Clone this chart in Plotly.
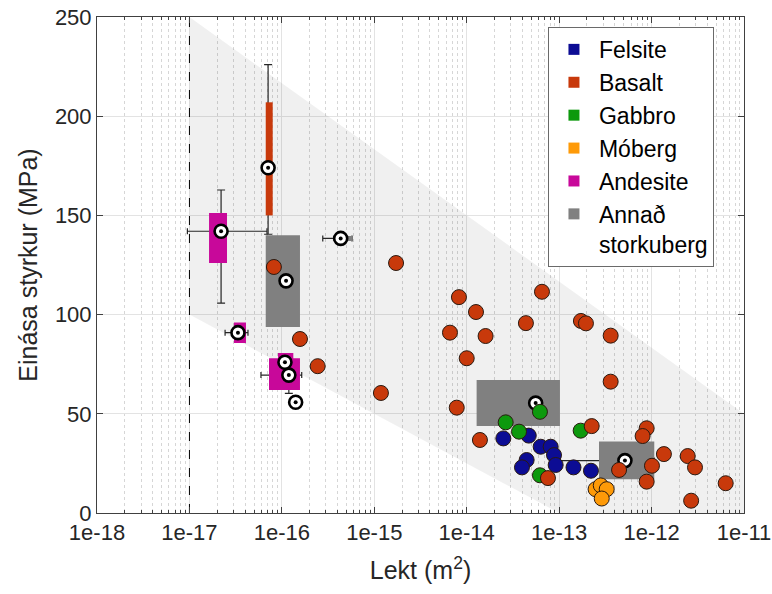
import plotly.graph_objects as go

# ---------------- data ----------------
band_x = [1e-17, 1e-11, 1e-11, 1e-13, 1e-17, 1e-17]
band_y = [250, 50, 0, 0, 100, 250]

limit_x = [1e-17, 1e-17]
limit_y = [0, 250]

felsite_x = [2.49e-14, 4.69e-14, 6.31e-14, 8.1e-14, 8.8e-14, 4.45e-14, 3.96e-14, 9.17e-14, 1.43e-13, 2.21e-13]
felsite_y = [37.6, 39.0, 33.4, 33.4, 29.2, 26.7, 23.0, 24.2, 23.0, 21.3]

gabbro_x = [2.64e-14, 3.68e-14, 6.2e-14, 1.71e-13, 6.2e-14]
gabbro_y = [45.7, 41.0, 51.0, 41.5, 19.0]

moberg_x = [2.48e-13, 2.82e-13, 3.27e-13, 2.89e-13]
moberg_y = [12.0, 13.9, 12.0, 7.3]

basalt_x = [8.2e-17, 1.57e-16, 2.44e-16, 1.72e-15, 1.18e-15, 8.24e-15, 1.26e-14, 6.59e-15,
            1.6e-14, 1.0e-14, 6.52e-14, 4.37e-14, 1.72e-13, 1.95e-13, 7.8e-15, 1.39e-14,
            2.25e-13, 7.57e-14, 3.61e-13, 3.61e-13, 8.85e-13, 8.0e-13, 1.36e-12, 4.45e-13,
            1.01e-12, 8.85e-13, 2.46e-12, 2.95e-12, 2.68e-12, 6.34e-12]
basalt_y = [124, 87.7, 74, 126, 60.5, 108.8, 101.3, 90.9,
            89.2, 78, 111.5, 95.7, 96.8, 95.6, 53.1, 36.8,
            43.8, 17.6, 89.4, 66.2, 42.7, 38.8, 29.7, 21.7,
            23.8, 15.8, 28.7, 23.0, 6.2, 15.0]

# boxes: group, x0, x1, y0, y1
box_group = ["Andesite", "Basalt", "Annað", "Andesite", "Andesite", "Andesite", "Annað", "Annað", "Annað"]
box_x0 = [1.63e-17, 6.69e-17, 6.69e-17, 3.03e-17, 7.26e-17, 9.08e-17, 3.57e-16, 1.28e-14, 2.7e-13]
box_x1 = [2.55e-17, 7.96e-17, 1.57e-16, 4.09e-17, 1.57e-16, 1.33e-16, 5.74e-16, 1.02e-13, 1.07e-12]
box_y0 = [126, 150, 93.7, 85.7, 62, 76, 137.1, 43.8, 17]
box_y1 = [151.2, 207, 140, 96, 78, 80.6, 139.6, 67, 36]

# medians
med_x = [2.2e-17, 7.1e-17, 1.11e-16, 3.35e-17, 1.08e-16, 1.19e-16, 1.41e-16, 4.33e-16, 5.57e-14, 5.15e-13]
med_y = [142, 174, 117, 90.9, 76, 69.5, 55.8, 138.4, 55.4, 26.4]

# vertical whiskers: x, y(center), low, high
vw_x = [2.2e-17, 7.1e-17, 1.19e-16]
vw_y = [142, 174, 69.5]
vw_lo = [105.8, 140.5, 60.3]
vw_hi = [162.8, 226, 69.5]

# horizontal whiskers: x(center), y, low, high
hw_x = [2.2e-17, 3.35e-17, 1.19e-16, 4.33e-16, 5.15e-13]
hw_y = [142, 90.9, 69.5, 138.4, 26.4]
hw_lo = [0.95e-17, 2.43e-17, 5.94e-17, 2.77e-16, 1.02e-13]
hw_hi = [6.9e-17, 4.3e-17, 1.64e-16, 5.74e-16, 1.07e-12]

x_tickvals = [1e-18, 1e-17, 1e-16, 1e-15, 1e-14, 1e-13, 1e-12, 1e-11]
x_ticktext = ["1e-18", "1e-17", "1e-16", "1e-15", "1e-14", "1e-13", "1e-12", "1e-11"]
y_tickvals = [0, 50, 100, 150, 200, 250]

legend_names = ["Felsite", "Basalt", "Gabbro", "Móberg", "Andesite", "Annað<br>storkuberg"]
colors = {
    "Felsite": "#0c0c94",
    "Basalt": "#c8390b",
    "Gabbro": "#0d990d",
    "Móberg": "#fe9a08",
    "Andesite": "#c8089a",
    "Annað": "#808080",
}
legend_colors = [colors["Felsite"], colors["Basalt"], colors["Gabbro"], colors["Móberg"],
                 colors["Andesite"], colors["Annað"]]

FONT = "Liberation Sans, Arial, sans-serif"
TXT = "#262626"

fig = go.Figure()

# band
fig.add_trace(go.Scatter(x=band_x, y=band_y, mode="lines", fill="toself",
                         fillcolor="rgba(0,0,0,0.06)", line=dict(width=0),
                         hoverinfo="skip", showlegend=False))
# limit line
fig.add_trace(go.Scatter(x=limit_x, y=limit_y, mode="lines",
                         line=dict(color="black", width=1, dash="dash"),
                         showlegend=False, hoverinfo="skip"))

# whiskers
fig.add_trace(go.Scatter(
    x=vw_x, y=vw_y, mode="markers", marker=dict(size=1, color="rgba(0,0,0,0)"),
    error_y=dict(type="data", symmetric=False,
                 array=[h - c for h, c in zip(vw_hi, vw_y)],
                 arrayminus=[c - l for l, c in zip(vw_lo, vw_y)],
                 color="#262626", thickness=1.2, width=4),
    showlegend=False, hoverinfo="skip"))
fig.add_trace(go.Scatter(
    x=hw_x, y=hw_y, mode="markers", marker=dict(size=1, color="rgba(0,0,0,0)"),
    error_x=dict(type="data", symmetric=False,
                 array=[h - c for h, c in zip(hw_hi, hw_x)],
                 arrayminus=[c - l for l, c in zip(hw_lo, hw_x)],
                 color="#262626", thickness=1.2, width=3),
    showlegend=False, hoverinfo="skip"))

# boxes
for g in ["Annað", "Basalt", "Andesite"]:
    xs, ys = [], []
    for grp, x0, x1, y0, y1 in zip(box_group, box_x0, box_x1, box_y0, box_y1):
        if grp != g:
            continue
        xs += [x0, x1, x1, x0, x0, None]
        ys += [y0, y0, y1, y1, y0, None]
    fig.add_trace(go.Scatter(x=xs, y=ys, mode="lines", fill="toself",
                             fillcolor=colors[g], line=dict(width=0, color=colors[g]),
                             showlegend=False, hoverinfo="skip"))

# medians
fig.add_trace(go.Scatter(x=med_x, y=med_y, mode="markers",
                         marker=dict(size=13, color="white", line=dict(color="black", width=2.6)),
                         showlegend=False))
fig.add_trace(go.Scatter(x=med_x, y=med_y, mode="markers",
                         marker=dict(size=4, color="black"),
                         showlegend=False, hoverinfo="skip"))

# scatter points
for name, xs, ys in [("Felsite", felsite_x, felsite_y), ("Gabbro", gabbro_x, gabbro_y),
                     ("Móberg", moberg_x, moberg_y), ("Basalt", basalt_x, basalt_y)]:
    fig.add_trace(go.Scatter(x=xs, y=ys, mode="markers", name=name,
                             marker=dict(size=15, color=colors[name],
                                         line=dict(color="#2a1a10", width=1)),
                             showlegend=False))

# legend dummies
for i, (nm, col) in enumerate(zip(legend_names, legend_colors)):
    fig.add_trace(go.Scatter(x=[None], y=[None], mode="markers", name=nm,
                             marker=dict(symbol="square", size=11, color=col),
                             legendrank=i + 1, showlegend=True))

axis_common = dict(
    showline=True, linecolor="#404040", linewidth=1, mirror="ticks",
    ticks="inside", ticklen=6, tickcolor="#404040",
    tickfont=dict(family=FONT, size=22, color=TXT),
    showgrid=True, gridcolor="#e3e3e3", gridwidth=1, zeroline=False,
    automargin=False, ticklabeloverflow="allow",
)

fig.update_layout(
    width=772, height=594,
    margin=dict(l=97, r=28, t=17, b=81),
    paper_bgcolor="white", plot_bgcolor="white",
    font=dict(family=FONT, color=TXT),
    xaxis=dict(type="log", range=[-18.0001, -10.9999], tickvals=x_tickvals, ticktext=x_ticktext,
               title=dict(text="Lekt (m<sup>2</sup>)", font=dict(family=FONT, size=25, color=TXT),
                          standoff=17),
               minor=dict(ticks="inside", ticklen=3, tickcolor="#404040", showgrid=True,
                          dtick="D1", gridcolor="#d6d6d6", griddash="dot", gridwidth=1),
               **axis_common),
    yaxis=dict(range=[0, 250], tickvals=y_tickvals,
               title=dict(text="Einása styrkur (MPa)", font=dict(family=FONT, size=25, color=TXT),
                          standoff=10),
               **axis_common),
    legend=dict(x=0.697, y=0.98, xanchor="left", yanchor="top",
                bgcolor="white", bordercolor="#6a6a6a", borderwidth=1,
                font=dict(family=FONT, size=23, color="black"),
                itemwidth=40, valign="top"),
    showlegend=True,
)

# remove the page's default body margin so the figure sits at the window origin
fig.write_html("out.html", config={"displayModeBar": False},
               post_script="document.body.style.margin='0';")
